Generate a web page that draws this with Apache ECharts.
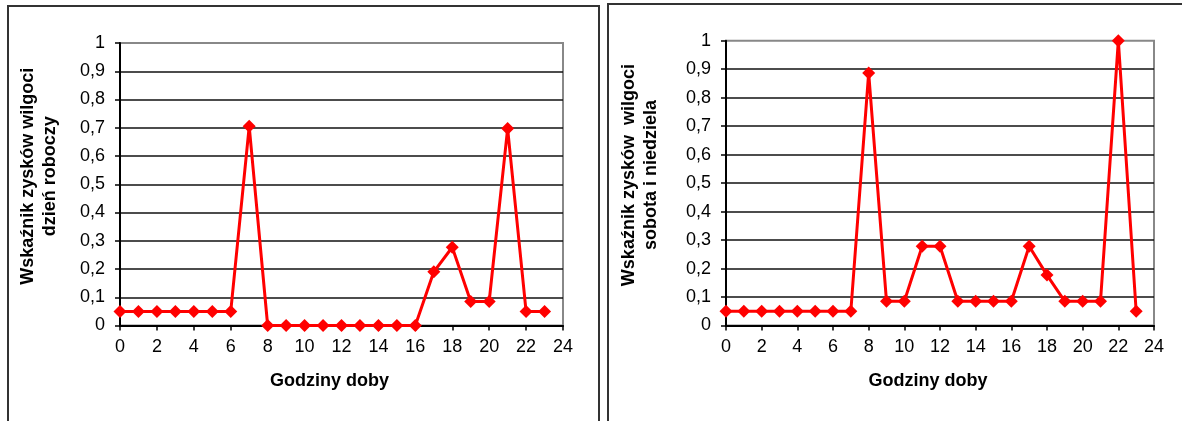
<!DOCTYPE html>
<html>
<head>
<meta charset="utf-8">
<script src="https://cdn.jsdelivr.net/npm/echarts@6/dist/echarts.min.js"></script>
<style>
  html, body { margin: 0; padding: 0; background: #fff; }
  #main { width: 1182px; height: 421px; }
</style>
</head>
<body>
<div id="main"></div>
<script>
// godziny 0..23
var hours = [0,1,2,3,4,5,6,7,8,9,10,11,12,13,14,15,16,17,18,19,20,21,22,23];
// dzień roboczy
var weekday = [0.05,0.05,0.05,0.05,0.05,0.05,0.05,0.705,0,0,0,0,0,0,0,0,0,0.19,0.277,0.085,0.085,0.697,0.05,0.05];
// sobota i niedziela
var weekend = [0.05,0.05,0.05,0.05,0.05,0.05,0.05,0.05,0.887,0.085,0.085,0.278,0.278,0.085,0.085,0.085,0.085,0.278,0.177,0.085,0.085,0.085,1.0,0.05];
var yTitles = ["Wskaźnik zysków wilgoci\ndzień roboczy", "Wskaźnik zysków  wilgoci\nsobota i niedziela"];
var xTitle = "Godziny doby";

var chartDom = document.getElementById("main");
var myChart = echarts.init(chartDom);
var font = "Liberation Sans, Arial, sans-serif";

function pairs(vals) {
  return vals.map(function (v, i) { return [hours[i], v]; });
}

function xAxisCfg(idx) {
  return {
    gridIndex: idx,
    type: "value",
    min: 0,
    max: 24,
    interval: 2,
    name: xTitle,
    nameLocation: "middle",
    nameGap: 47,
    nameTextStyle: { fontFamily: font, fontSize: 18, fontWeight: "bold", color: "#000", padding: [0, 24, 0, 0] },
    axisLine: { show: true, onZero: false, lineStyle: { color: "#000", width: 2 } },
    axisTick: { show: true, length: 5, lineStyle: { color: "#000", width: 1.5 } },
    axisLabel: { fontFamily: font, fontSize: 18, color: "#000", margin: 13 },
    splitLine: { show: false },
  };
}

function yAxisCfg(idx, gap) {
  return {
    gridIndex: idx,
    type: "value",
    min: 0,
    max: 1,
    interval: 0.1,
    name: yTitles[idx],
    nameLocation: "middle",
    nameRotate: 90,
    nameGap: gap,
    nameTextStyle: { fontFamily: font, fontSize: 18, fontWeight: "bold", color: "#000", lineHeight: 22, padding: [0, 0, 0, 16] },
    axisLine: { show: true, lineStyle: { color: "#000", width: 2 } },
    axisTick: { show: true, length: 5, lineStyle: { color: "#000", width: 1.5 } },
    axisLabel: {
      fontFamily: font, fontSize: 18, color: "#000", margin: 15,
      formatter: function (v) { return String(Math.round(v * 10) / 10).replace(".", ","); },
    },
    splitLine: { show: true, showMaxLine: false, lineStyle: { color: "#111", width: 1.5 } },
  };
}

function seriesCfg(idx, vals) {
  return {
    type: "line",
    xAxisIndex: idx,
    yAxisIndex: idx,
    data: pairs(vals),
    symbol: "diamond",
    symbolSize: 13,
    showAllSymbol: true,
    lineStyle: { color: "#ff0000", width: 3 },
    itemStyle: { color: "#ff0000" },
    animation: false,
  };
}

var option = {
  animation: false,
  grid: [
    { left: 120, top: 43, right: 619, bottom: 95.5, show: true, borderColor: "#888", borderWidth: 2, backgroundColor: "transparent" },
    { left: 726, top: 40.7, right: 28, bottom: 95.5, show: true, borderColor: "#888", borderWidth: 2, backgroundColor: "transparent" },
  ],
  xAxis: [xAxisCfg(0), xAxisCfg(1)],
  yAxis: [yAxisCfg(0, 59), yAxisCfg(1, 64)],
  series: [seriesCfg(0, weekday), seriesCfg(1, weekend)],
  graphic: [
    { type: "rect", shape: { x: 8, y: 6, width: 591, height: 440 }, style: { fill: "none", stroke: "#333", lineWidth: 2 }, z: 100 },
    { type: "rect", shape: { x: 608, y: 4, width: 620, height: 440 }, style: { fill: "none", stroke: "#333", lineWidth: 2 }, z: 100 },
  ],
};

option && myChart.setOption(option);
</script>
</body>
</html>
